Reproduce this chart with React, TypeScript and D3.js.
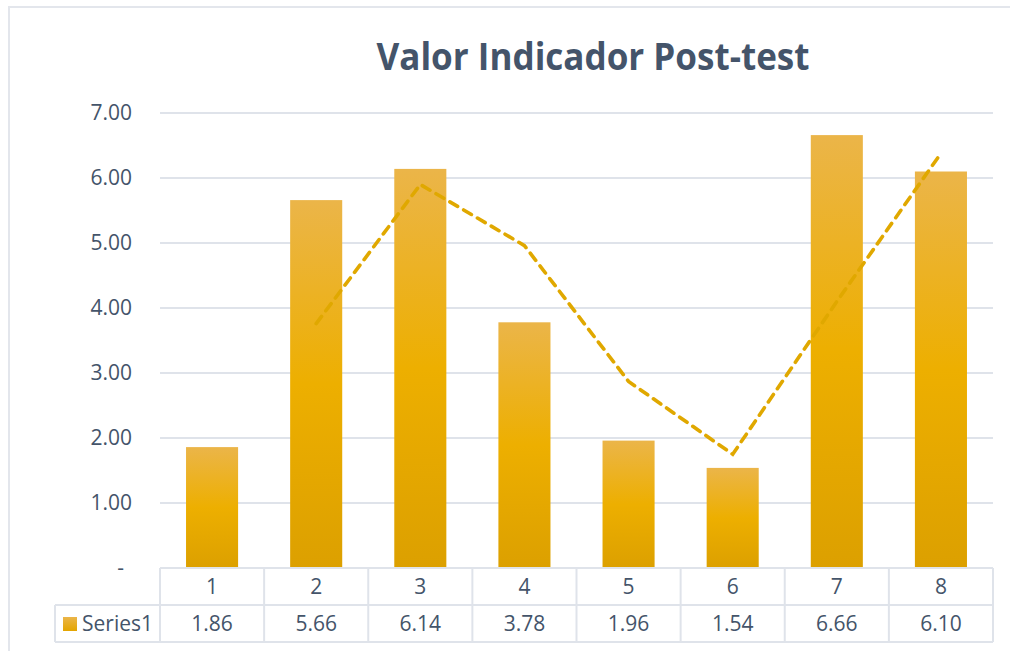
import React from 'react';
import * as d3 from 'd3';

// 数据
const categories = ['1', '2', '3', '4', '5', '6', '7', '8'];
const seriesValues = [1.86, 5.66, 6.14, 3.78, 1.96, 1.54, 6.66, 6.10];
// 趋势线（两期移动平均，从图上读取）
const trendCategories = ['2', '3', '4', '5', '6', '7', '8'];
const trendValues = [3.76, 5.90, 4.96, 2.87, 1.75, 4.10, 6.38];
const yTicks = [0, 1, 2, 3, 4, 5, 6, 7];
const seriesName = 'Series1';
const title = 'Valor Indicador Post-test';

const width = 1010;
const height = 651;
const plot = { left: 160, right: 993, top: 113, bottom: 568 };
const rowH = 37;
const font = "'Open Sans', 'Noto Sans', sans-serif";
const textColor = '#44546A';
const lineColor = '#DFE3EA';

export default function App() {
  const xCell = d3.scaleBand<string>()
    .domain(categories)
    .range([plot.left, plot.right]);

  const xBar = d3.scaleBand<string>()
    .domain(categories)
    .range([plot.left, plot.right])
    .paddingInner(0.5)
    .paddingOuter(0.25);

  const y = d3.scaleLinear().domain([0, 7]).range([plot.bottom, plot.top]);

  const line = d3.line<number>()
    .x((_, i) => (xCell(trendCategories[i]) as number) + xCell.bandwidth() / 2)
    .y(d => y(d));

  const row1 = plot.bottom;
  const row2 = plot.bottom + rowH;
  const row3 = plot.bottom + rowH * 2;

  return (
    <div style={{ position: 'absolute', left: 0, top: 0 }}>
      <svg width={width} height={height} style={{ display: 'block', background: '#fff' }}>
        <defs>
          <linearGradient id="barGrad" x1="0" y1="0" x2="0" y2="1">
            <stop offset="0%" stopColor="#EBB549" />
            <stop offset="50%" stopColor="#EDAF00" />
            <stop offset="100%" stopColor="#DCA000" />
          </linearGradient>
          <linearGradient id="keyGrad" x1="0" y1="0" x2="0" y2="1">
            <stop offset="0%" stopColor="#EBB549" />
            <stop offset="100%" stopColor="#E3A500" />
          </linearGradient>
        </defs>

        {/* 图表外框 */}
        <path d={`M9,${height} V7 H${width}`} fill="none" stroke="#E3E6EC" strokeWidth={2} />

        {/* 标题 */}
        <text x={593} y={70} textAnchor="middle" fontFamily={font} fontWeight={700}
          fontSize={37} fill={textColor} textLength={433} lengthAdjust="spacingAndGlyphs">
          {title}
        </text>

        {/* 网格线 */}
        {yTicks.filter(t => t > 0).map(t => (
          <line key={t} x1={plot.left} x2={plot.right} y1={y(t)} y2={y(t)}
            stroke={lineColor} strokeWidth={2} />
        ))}

        {/* Y轴标签 */}
        {yTicks.map(t => (
          <text key={t} x={t === 0 ? 124 : 132} y={y(t)} dy="0.35em" textAnchor="end"
            fontFamily={font} fontSize={21} fill={textColor}>
            {t === 0 ? '-' : t.toFixed(2)}
          </text>
        ))}

        {/* 柱子 */}
        {categories.map((c, i) => (
          <rect key={c} x={xBar(c)} y={y(seriesValues[i])} width={xBar.bandwidth()}
            height={y(0) - y(seriesValues[i])} fill="url(#barGrad)" />
        ))}

        {/* 趋势线 */}
        <path d={line(trendValues) || ''} fill="none" stroke="#E0A800" strokeWidth={3.6}
          strokeDasharray="9 7" strokeLinecap="round" />

        {/* 数据表 */}
        <g stroke={lineColor} strokeWidth={2} fill="none">
          <line x1={plot.left} x2={plot.right} y1={row1} y2={row1} />
          <line x1={55} x2={plot.right} y1={row2} y2={row2} />
          <line x1={55} x2={plot.right} y1={row3} y2={row3} />
          <line x1={55} x2={55} y1={row2} y2={row3} />
          {categories.map(c => (
            <line key={c} x1={xCell(c)} x2={xCell(c)} y1={row1} y2={row3} />
          ))}
          <line x1={plot.right} x2={plot.right} y1={row1} y2={row3} />
        </g>
        {categories.map((c, i) => (
          <g key={c} fontFamily={font} fontSize={21} fill={textColor} textAnchor="middle">
            <text x={(xCell(c) as number) + xCell.bandwidth() / 2} y={(row1 + row2) / 2} dy="0.35em">{c}</text>
            <text x={(xCell(c) as number) + xCell.bandwidth() / 2} y={(row2 + row3) / 2} dy="0.35em">
              {seriesValues[i].toFixed(2)}
            </text>
          </g>
        ))}
        <rect x={63} y={617} width={14} height={14} fill="url(#keyGrad)" />
        <text x={82} y={(row2 + row3) / 2} dy="0.35em" fontFamily={font} fontSize={21} fill={textColor}>
          {seriesName}
        </text>
      </svg>
    </div>
  );
}
